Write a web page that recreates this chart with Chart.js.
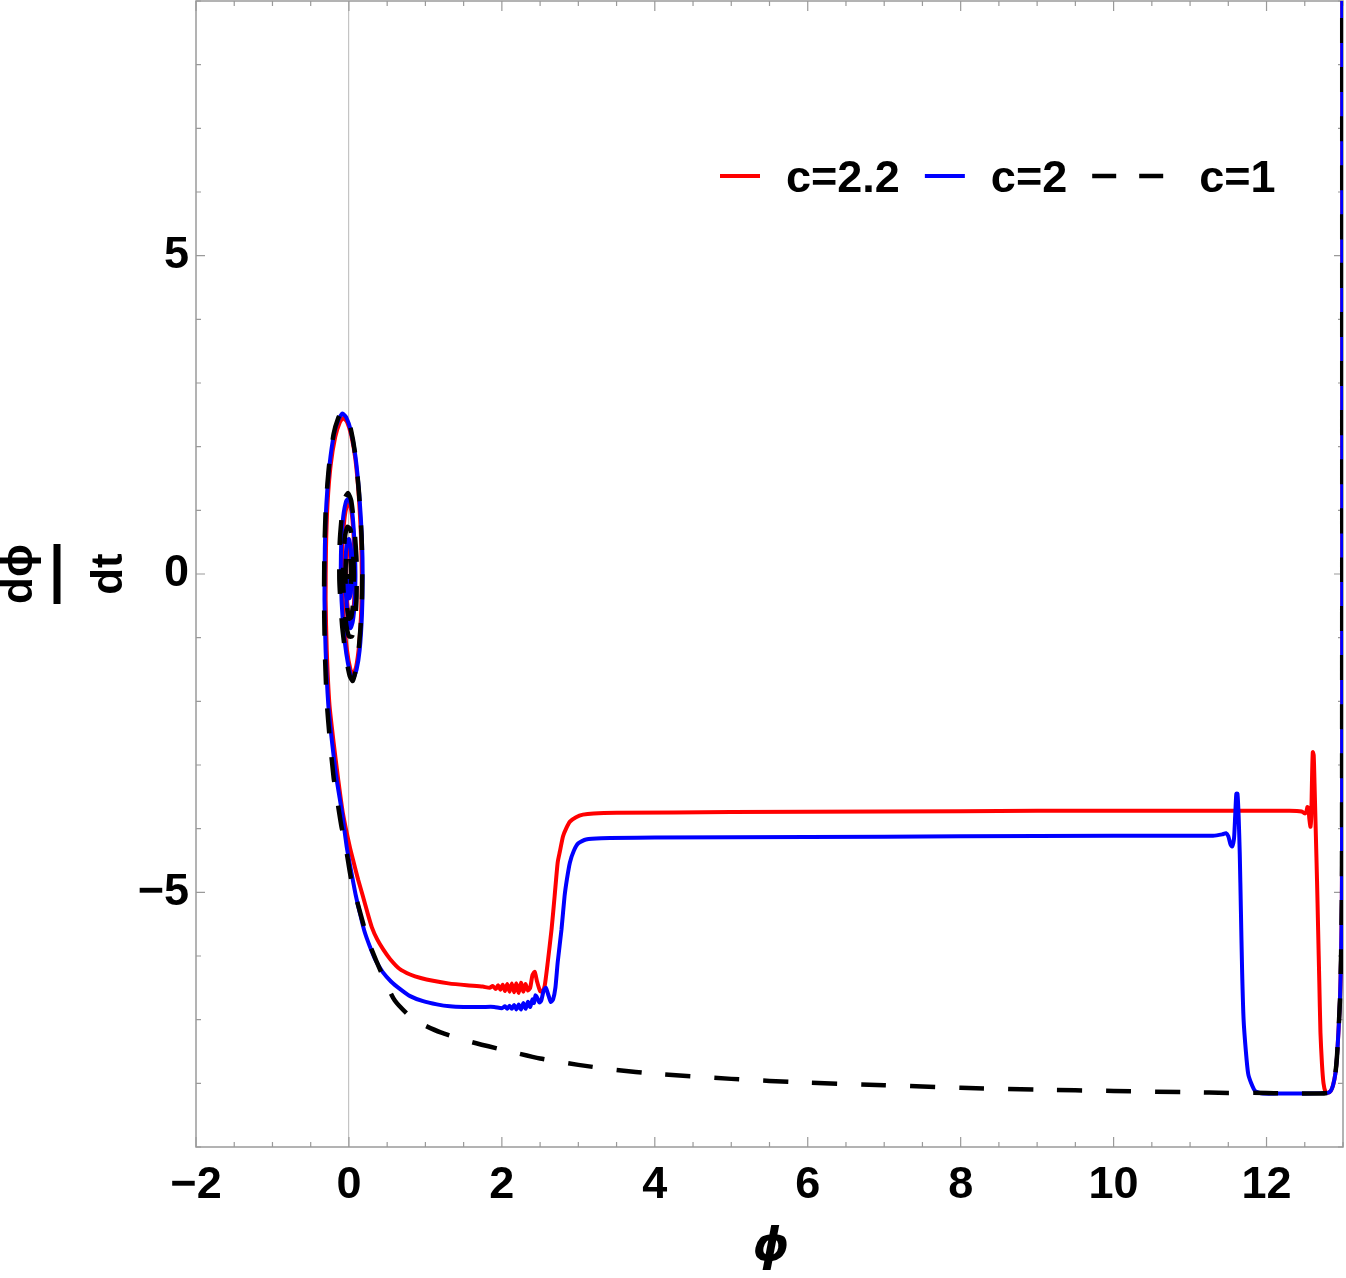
<!DOCTYPE html>
<html>
<head>
<meta charset="utf-8">
<script src="https://cdn.jsdelivr.net/npm/chart.js@4.4.1/dist/chart.umd.min.js"></script>
<style>
  html, body { margin: 0; padding: 0; background: #fff; }
  #wrap { width: 1346px; height: 1278px; }
</style>
</head>
<body>
<div id="wrap"><canvas id="ch" width="1346" height="1278"></canvas></div>
<script>
// tick labels
const xTicks = [-2, 0, 2, 4, 6, 8, 10, 12];
const yTicks = [-5, 0, 5];
const labels = ['c=2.2', 'c=2', 'c=1'];

// c = 2.2 (red), time order: right wall -> plateau -> spiral
const redPhi = [12.99, 12.99, 12.99, 12.988, 12.985, 12.975, 12.96, 12.94, 12.92, 12.9, 12.87, 12.84, 12.8, 12.77, 12.745, 12.725, 12.705, 12.69, 12.675, 12.66, 12.645, 12.63, 12.617, 12.605, 12.595, 12.585, 12.575, 12.56, 12.548, 12.535, 12.52, 12.5, 12.46, 12.3, 11, 9, 7, 5, 3.5, 3.2, 3.06, 2.97, 2.89, 2.84, 2.8, 2.76, 2.73, 2.69, 2.65, 2.6, 2.56, 2.53, 2.5, 2.46, 2.43, 2.4, 2.37, 2.34, 2.31, 2.28, 2.25, 2.22, 2.19, 2.16, 2.13, 2.1, 2.07, 2.04, 2.01, 1.98, 1.95, 1.92, 1.88, 1.84, 1.75, 1.54, 1.3, 1.1, 0.95, 0.8, 0.66, 0.54, 0.45, 0.37, 0.3, 0.24, 0.18, 0.12, 0.06, 0.01, -0.08, -0.14, -0.2, -0.255, -0.29, -0.305, -0.3, -0.28, -0.24, -0.18, -0.12, -0.075, -0.025, 0.03, 0.085, 0.13, 0.16, 0.168, 0.158, 0.13, 0.095, 0.055, 0.02, -0.025, -0.065, -0.09, -0.085, -0.06, -0.025, 0.005, 0.04, 0.065, 0.078, 0.068, 0.045, 0.015, -0.01, -0.032, -0.035, -0.02, 0.005, 0.022, 0.028, 0.018, 0, -0.008, 0];
const redDphi = [9.5, 5, 0, -4, -5.1, -6, -6.7, -7.2, -7.6, -7.85, -8.03, -8.12, -8.15, -8.13, -8.0, -7.7, -7.2, -6.4, -5.6, -4.8, -4.1, -3.4, -2.85, -2.8, -3.2, -3.8, -3.97, -3.85, -3.68, -3.66, -3.74, -3.76, -3.73, -3.72, -3.72, -3.72, -3.73, -3.74, -3.75, -3.76, -3.78, -3.82, -3.89, -4.0, -4.12, -4.35, -4.53, -5.06, -5.58, -6.1, -6.47, -6.56, -6.55, -6.4, -6.25, -6.3, -6.5, -6.54, -6.44, -6.56, -6.42, -6.58, -6.43, -6.57, -6.43, -6.56, -6.44, -6.55, -6.45, -6.53, -6.46, -6.52, -6.47, -6.5, -6.48, -6.46, -6.43, -6.39, -6.35, -6.29, -6.2, -6.05, -5.9, -5.74, -5.55, -5.31, -5.05, -4.8, -4.52, -4.28, -3.75, -3.23, -2.65, -2.05, -1.2, -0.4, 0.4, 1.1, 1.7, 2.15, 2.38, 2.45, 2.39, 2.18, 1.8, 1.2, 0.5, -0.05, -0.65, -1.15, -1.45, -1.58, -1.5, -1.2, -0.7, -0.1, 0.45, 0.85, 1.08, 1.1, 0.92, 0.5, 0, -0.42, -0.7, -0.78, -0.62, -0.25, 0.15, 0.4, 0.48, 0.3, 0, -0.25, -0.3, -0.1, 0];

// c = 2 (blue)
const bluePhi = [12.99, 12.99, 12.99, 12.988, 12.985, 12.975, 12.96, 12.94, 12.92, 12.9, 12.87, 12.84, 12.8, 12.5, 12.2, 11.95, 11.85, 11.8, 11.76, 11.73, 11.7, 11.68, 11.665, 11.65, 11.635, 11.62, 11.605, 11.59, 11.575, 11.55, 11.53, 11.5, 11.47, 11.42, 11.3, 10, 8, 6, 4, 3.3, 3.1, 3.0, 2.94, 2.89, 2.85, 2.82, 2.78, 2.73, 2.7, 2.67, 2.64, 2.61, 2.575, 2.545, 2.515, 2.49, 2.46, 2.44, 2.42, 2.4, 2.37, 2.34, 2.31, 2.28, 2.25, 2.22, 2.19, 2.16, 2.13, 2.1, 2.07, 2.04, 2.0, 1.9, 1.75, 1.5, 1.32, 1.15, 0.97, 0.8, 0.67, 0.55, 0.44, 0.35, 0.27, 0.2, 0.14, 0.09, 0.05, 0.01, -0.03, -0.09, -0.16, -0.22, -0.27, -0.305, -0.32, -0.315, -0.295, -0.255, -0.195, -0.135, -0.085, -0.035, 0.025, 0.085, 0.135, 0.17, 0.18, 0.17, 0.14, 0.1, 0.055, 0.015, -0.035, -0.08, -0.105, -0.1, -0.075, -0.035, 0, 0.04, 0.07, 0.085, 0.075, 0.05, 0.02, -0.01, -0.04, -0.045, -0.03, 0, 0.025, 0.035, 0.025, 0.005, -0.01, 0];
const blueDphi = [9.5, 5, 0, -4, -5.1, -6, -6.7, -7.2, -7.6, -7.85, -8.03, -8.12, -8.15, -8.16, -8.16, -8.16, -8.12, -8.0, -7.85, -7.5, -7.0, -6.2, -5.3, -4.4, -3.8, -3.45, -3.45, -3.8, -4.15, -4.28, -4.25, -4.12, -4.07, -4.09, -4.11, -4.11, -4.12, -4.13, -4.14, -4.15, -4.17, -4.23, -4.35, -4.53, -4.8, -5.06, -5.58, -6.1, -6.5, -6.68, -6.72, -6.62, -6.5, -6.55, -6.7, -6.73, -6.65, -6.62, -6.74, -6.68, -6.8, -6.72, -6.83, -6.74, -6.84, -6.76, -6.84, -6.77, -6.83, -6.78, -6.83, -6.79, -6.82, -6.8, -6.8, -6.8, -6.79, -6.76, -6.71, -6.63, -6.52, -6.4, -6.25, -6.07, -5.84, -5.6, -5.31, -5.05, -4.8, -4.55, -4.28, -3.75, -3.23, -2.65, -2.05, -1.2, -0.4, 0.4, 1.1, 1.7, 2.2, 2.43, 2.52, 2.46, 2.25, 1.85, 1.25, 0.55, -0.05, -0.65, -1.2, -1.5, -1.64, -1.55, -1.25, -0.75, -0.1, 0.5, 0.9, 1.15, 1.18, 1.0, 0.55, 0, -0.45, -0.75, -0.85, -0.7, -0.3, 0.15, 0.45, 0.55, 0.35, 0, -0.3, -0.38, -0.15, 0];

// c = 1 (black dashed)
const blackPhi = [12.99, 12.99, 12.99, 12.988, 12.985, 12.975, 12.96, 12.94, 12.92, 12.9, 12.87, 12.84, 12.8, 12.7, 12.3, 12.0, 11.5, 11.0, 10.0, 9.0, 8.0, 7.0, 6.0, 5.0, 4.0, 3.5, 3.0, 2.5, 2.0, 1.6, 1.2, 0.85, 0.6, 0.42, 0.25, 0.12, 0.03, -0.04, -0.1, -0.16, -0.2, -0.25, -0.29, -0.315, -0.325, -0.32, -0.3, -0.26, -0.2, -0.14, -0.09, -0.04, 0.02, 0.08, 0.13, 0.165, 0.175, 0.165, 0.13, 0.09, 0.05, 0.01, -0.04, -0.09, -0.125, -0.12, -0.09, -0.05, -0.01, 0.03, 0.07, 0.1, 0.1, 0.08, 0.04, 0, -0.04, -0.07, -0.075, -0.055, -0.02, 0.02, 0.05, 0.065, 0.055, 0.03, 0, -0.03, -0.045, -0.035, -0.01, 0.015, 0.03, 0.02, 0, -0.01, 0];
const blackDphi = [9.5, 5, 0, -4, -5.1, -6, -6.7, -7.2, -7.6, -7.85, -8.03, -8.12, -8.15, -8.16, -8.16, -8.15, -8.15, -8.14, -8.12, -8.1, -8.07, -8.03, -7.99, -7.93, -7.85, -7.79, -7.71, -7.61, -7.47, -7.35, -7.2, -7.0, -6.7, -6.25, -5.75, -5.2, -4.8, -4.3, -3.95, -3.5, -3.2, -2.6, -2.0, -1.2, -0.4, 0.4, 1.1, 1.7, 2.2, 2.45, 2.55, 2.5, 2.3, 1.9, 1.3, 0.6, 0, -0.6, -1.15, -1.5, -1.68, -1.6, -1.3, -0.8, -0.1, 0.5, 0.95, 1.2, 1.27, 1.15, 0.75, 0.2, -0.35, -0.75, -0.98, -0.98, -0.75, -0.3, 0.15, 0.55, 0.74, 0.7, 0.4, 0, -0.45, -0.68, -0.7, -0.45, -0.05, 0.3, 0.42, 0.3, 0, -0.25, -0.3, -0.1, 0];

const pts = (xs, ys) => xs.map((v, i) => ({ x: v, y: ys[i] }));
const fmt = v => (v < 0 ? '\u2212' + Math.abs(v) : String(v));
const FONT = "'Liberation Sans', Arial, sans-serif";

const decor = {
    id: 'decor',
    beforeDatasetsDraw(chart) {
        const { ctx, chartArea: a, scales: { x, y } } = chart;
        ctx.save();
        ctx.strokeStyle = '#9a9a9a';
        ctx.lineWidth = 1.5;
        ctx.strokeRect(a.left, a.top, a.right - a.left, a.bottom - a.top);
        ctx.lineWidth = 1.2;
        ctx.beginPath();
        for (let k = 0; k <= 30; k++) {
            const v = -2 + k * 0.5;
            const px = x.getPixelForValue(v);
            const len = (k % 4 === 0) ? 10 : 5;
            ctx.moveTo(px, a.bottom); ctx.lineTo(px, a.bottom - len);
            ctx.moveTo(px, a.top); ctx.lineTo(px, a.top + len);
        }
        for (let v = -9; v <= 9; v++) {
            const py = y.getPixelForValue(v);
            const len = (v % 5 === 0) ? 9 : 5;
            ctx.moveTo(a.left, py); ctx.lineTo(a.left + len, py);
            ctx.moveTo(a.right, py); ctx.lineTo(a.right - len, py);
        }
        ctx.stroke();
        ctx.restore();
    },
    afterDraw(chart) {
        const { ctx } = chart;
        ctx.save();
        ctx.fillStyle = '#000';
        // x title
        ctx.font = "italic bold 46px 'DejaVu Sans', " + FONT;
        ctx.textAlign = 'center';
        ctx.textBaseline = 'alphabetic';
        ctx.fillText('\u03D5', 771, 1260);
        // y title (fraction, rotated)
        ctx.save();
        ctx.translate(57, 574);
        ctx.rotate(-Math.PI / 2);
        ctx.font = 'bold 44px ' + FONT;
        ctx.fillText('d\u03D5', 0, -25);
        ctx.fillText('dt', 0, 65);
        ctx.fillRect(-30, -3.5, 60, 7);
        ctx.restore();
        // legend
        let lx = 720;
        const ly = 176;
        ctx.font = 'bold 45px ' + FONT;
        ctx.textAlign = 'left';
        chart.data.datasets.forEach(ds => {
            const dashed = ds.borderDash && ds.borderDash.length;
            const w = dashed ? 72 : 40;
            ctx.strokeStyle = ds.borderColor;
            ctx.lineWidth = ds.borderWidth;
            ctx.setLineDash(dashed ? [24, 23] : []);
            ctx.beginPath();
            ctx.moveTo(lx, ly); ctx.lineTo(lx + w, ly);
            ctx.stroke();
            ctx.setLineDash([]);
            lx += w + (dashed ? 35 : 26);
            ctx.fillText(ds.label, lx, 192);
            lx += ctx.measureText(ds.label).width + 25;
        });
        ctx.restore();
    }
};

const chart = new Chart('ch', {
    type: 'scatter',
    data: {
        datasets: [{
            label: labels[0],
            data: pts(redPhi, redDphi),
            borderColor: '#ff0000',
            borderWidth: 4,
            order: 3
        }, {
            label: labels[1],
            data: pts(bluePhi, blueDphi),
            borderColor: '#0000ff',
            borderWidth: 4,
            order: 2
        }, {
            label: labels[2],
            data: pts(blackPhi, blackDphi),
            borderColor: '#000000',
            borderWidth: 4.5,
            borderDash: [25, 24],
            order: 1
        }]
    },
    options: {
        responsive: false,
        animation: false,
        devicePixelRatio: 1,
        showLine: true,
        elements: {
            point: { radius: 0, hoverRadius: 0 },
            line: { tension: 0.2, fill: false, borderCapStyle: 'butt' }
        },
        layout: { padding: { top: 1, right: 3, left: 0, bottom: 0 } },
        plugins: { legend: { display: false }, tooltip: { enabled: false } },
        scales: {
            x: {
                type: 'linear', min: -2, max: 13,
                afterBuildTicks: s => { s.ticks = xTicks.map(v => ({ value: v })); },
                afterFit: s => { s.height = 131; s.paddingLeft = 0; s.paddingRight = 0; },
                grid: {
                    drawTicks: false,
                    color: c => (c.tick && c.tick.value === 0 ? '#c4c4c4' : 'rgba(0,0,0,0)'),
                    lineWidth: 1.2
                },
                border: { display: false },
                ticks: {
                    color: '#000', padding: 12, maxRotation: 0, autoSkip: false,
                    font: { family: FONT, size: 45, weight: 'bold' },
                    callback: v => fmt(v)
                }
            },
            y: {
                type: 'linear', min: -9, max: 9,
                afterBuildTicks: s => { s.ticks = yTicks.map(v => ({ value: v })); },
                afterFit: s => { s.width = 196; s.paddingTop = 0; s.paddingBottom = 0; },
                grid: { display: false, drawTicks: false },
                border: { display: false },
                ticks: {
                    color: '#000', padding: 7, autoSkip: false,
                    font: { family: FONT, size: 45, weight: 'bold' },
                    callback: v => fmt(v)
                }
            }
        }
    },
    plugins: [decor]
});
</script>
</body>
</html>
